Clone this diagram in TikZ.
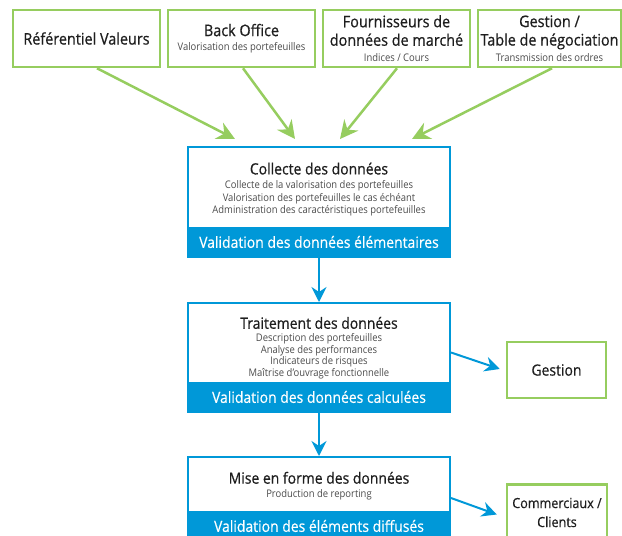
\documentclass[tikz,border=0pt]{standalone}
\usepackage{fontspec}
\setmainfont[FakeStretch=0.9]{Open Sans}
\usetikzlibrary{arrows.meta,calc}
\definecolor{grn}{RGB}{150,205,95}
\definecolor{blu}{RGB}{0,152,216}
\definecolor{txt}{RGB}{30,30,30}
\definecolor{subc}{RGB}{75,75,75}
\newcommand\TtlF{\fontsize{16}{18}\selectfont\addfontfeature{FakeBold=0.6}}
\newcommand\MidF{\fontsize{15.5}{17}\selectfont\addfontfeature{FakeBold=0.6}}
\newcommand\SubF{\fontsize{10.5}{12}\selectfont\color{subc}}
\newcommand\SideF{\fontsize{14}{16}\selectfont\addfontfeature{FakeBold=0.4}}
\begin{document}
\begin{tikzpicture}[x=1pt,y=-1pt,
 gbox/.style={draw=grn,line width=2.5pt,fill=white,minimum height=57pt,align=center,text=txt,inner sep=0pt},
 bbox/.style={draw=blu,line width=2pt,minimum width=262pt,inner sep=0pt},
 band/.style={fill=blu,minimum width=262pt,minimum height=30pt,inner sep=0pt,text=white,font=\fontsize{15.5}{17}\selectfont\addfontfeature{FakeBold=0.3}},
 btext/.style={align=center,text=txt,inner sep=0pt},
 garrow/.style={draw=grn,line width=2.5pt,-{Stealth[length=18pt,width=18pt,inset=6pt]}},
 barrow/.style={draw=blu,line width=2pt,-{Stealth[length=15pt,width=15pt,inset=5pt]}},
 ]
\useasboundingbox (0,0) rectangle (622,536);
% top green boxes
\node[gbox,minimum width=147pt] (ref) at (86.5,38.5) {\TtlF Référentiel Valeurs};
\node[gbox,minimum width=147pt,font=\fontsize{10}{14.5}\selectfont] (back) at (241.5,38.5) {\TtlF Back Office\\\SubF Valorisation des portefeuilles};
\node[gbox,minimum width=147pt,font=\fontsize{10}{18.5}\selectfont] (four) at (396.5,38.5) {\TtlF Fournisseurs de\\\TtlF données de marché\\[-2.5pt]\SubF Indices / Cours};
\node[gbox,minimum width=143pt,font=\fontsize{10}{18.5}\selectfont] (gest) at (549.5,38.5) {\TtlF Gestion /\\\TtlF Table de négociation\\[-2.5pt]\SubF Transmission des ordres};
% blue boxes
\node[bbox,minimum height=110pt] (col) at (319,202) {};
\node[band] (colb) at (319,242) {Validation des données élémentaires};
\node[btext,font=\fontsize{10}{12.5}\selectfont] (colt) at (319,189.5) {\MidF Collecte des données\\[2pt]\SubF Collecte de la valorisation des portefeuilles\\\SubF Valorisation des portefeuilles le cas échéant\\\SubF Administration des caractéristiques portefeuilles};
\node[bbox,minimum height=109pt] (tra) at (319,357.5) {};
\node[band] (trab) at (319,397) {Validation des données calculées};
\node[btext,font=\fontsize{10}{11.7}\selectfont] (trat) at (319,348) {\MidF Traitement des données\\[1pt]\SubF Description des portefeuilles\\\SubF Analyse des performances\\\SubF Indicateurs de risques\\\SubF Maîtrise d’ouvrage fonctionnelle};
\node[bbox,minimum height=84pt] (mis) at (319,499) {};
\node[band] (misb) at (319,526) {Validation des éléments diffusés};
\node[btext,font=\fontsize{10}{14}\selectfont] (mist) at (319,486) {\MidF Mise en forme des données\\\SubF Production de reporting};
% right green boxes
\node[gbox,minimum width=99pt,minimum height=56pt] (gsn) at (556.5,370) {\fontsize{15.5}{17}\selectfont\addfontfeature{FakeBold=0.4}Gestion};
\node[gbox,minimum width=100pt,minimum height=56pt,font=\fontsize{10}{19}\selectfont] (com) at (557,512.5) {\SideF Commerciaux /\\\SideF Clients};
% green arrows
\draw[garrow] ($(ref.south)+(10.5,0)$) -- ($(col.north)+(-84,-7)$);
\draw[garrow] ($(back.south)+(1.5,0)$) -- ($(col.north)+(-24,-7)$);
\draw[garrow] ($(four.south)+(0.5,0)$) -- ($(col.north)+(21,-7)$);
\draw[garrow] ($(gest.south)+(2.5,0)$) -- ($(col.north)+(93,-7)$);
% blue arrows
\draw[barrow] (col.south) -- (tra.north);
\draw[barrow] (tra.south) -- (mis.north);
\draw[barrow] ($(tra.east)+(0,-5)$) -- ($(gsn.west)+(-6,-1)$);
\draw[barrow] ($(mis.east)+(0,-1)$) -- ($(com.west)+(-9,2)$);
\end{tikzpicture}
\end{document}
